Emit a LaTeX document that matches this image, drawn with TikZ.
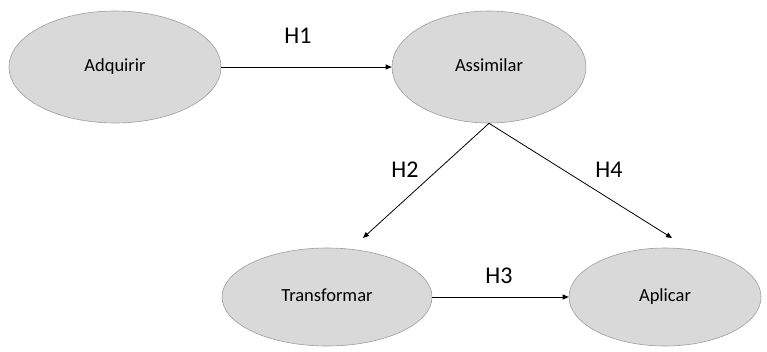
\documentclass[tikz,border=0pt]{standalone}
\usepackage{fontspec}
\setmainfont{Carlito}
\usetikzlibrary{shapes.geometric,arrows.meta}
\begin{document}
\begin{tikzpicture}[x=1pt,y=-1pt,
  ell/.style={ellipse,draw=black!38,fill=black!15,line width=0.6pt,inner sep=0pt,text height=12pt,text depth=3pt,font=\fontsize{18.5}{21}\selectfont},
  conn/.style={line width=0.8pt,-{Triangle[length=6pt,width=5pt]}},
  hlab/.style={font=\fontsize{24}{28}\selectfont}]
\useasboundingbox (0,0) rectangle (767,351);
\node[ell,minimum width=212pt,minimum height=112pt] (adq) at (115,67) {Adquirir};
\node[ell,minimum width=194pt,minimum height=112pt] (ass) at (489,67) {Assimilar};
\node[ell,minimum width=210pt,minimum height=98pt] (tra) at (327,297) {Transformar};
\node[ell,minimum width=192pt,minimum height=98pt] (apl) at (665,297) {Aplicar};
\coordinate (h2end) at (363,238);
\coordinate (h4end) at (672,238);
\draw[conn] (adq.east) -- (ass.west);
\draw[conn] (ass.south) -- (h2end);
\draw[conn] (ass.south) -- (h4end);
\draw[conn] (tra.east) -- (apl.west);
\node[hlab] (l1) at (298,36) {H1};
\node[hlab] (l2) at (405,170) {H2};
\node[hlab] (l4) at (609,170) {H4};
\node[hlab] (l3) at (499,276) {H3};
\end{tikzpicture}
\end{document}
